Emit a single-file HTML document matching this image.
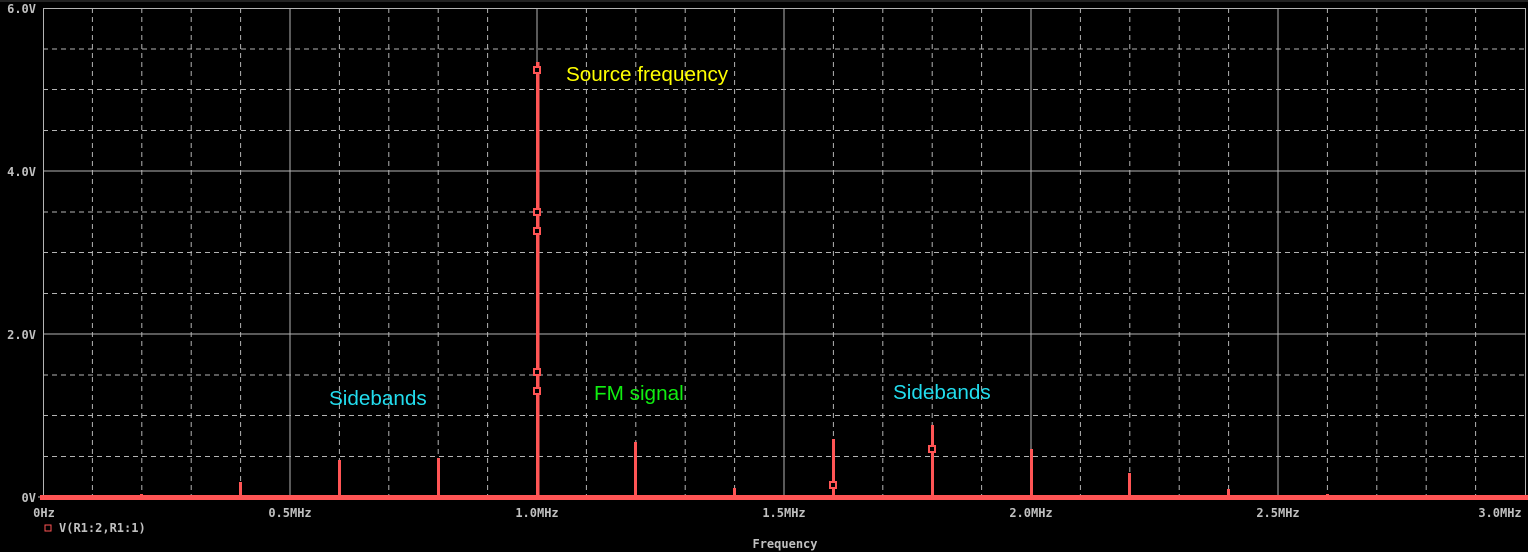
<!DOCTYPE html>
<html><head><meta charset="utf-8"><style>
html,body{margin:0;padding:0;background:#000;}
svg{display:block;}
.t{font-family:"DejaVu Sans Mono","Liberation Mono",monospace;font-size:12px;font-weight:bold;fill:#c0c0c0;}
.a{font-family:"Liberation Sans",sans-serif;font-size:20.7px;}
</style></head><body>
<svg width="1528" height="552" xmlns="http://www.w3.org/2000/svg">
<rect width="1528" height="552" fill="#000"/>
<rect x="0" y="0" width="1528" height="2" fill="#222"/>
<g stroke="#b4b4b4" stroke-width="1" stroke-dasharray="5,4" fill="none">
<path d="M92.4 8V497M141.8 8V497M191.2 8V497M240.6 8V497M339.4 8V497M388.8 8V497M438.2 8V497M487.6 8V497M586.4 8V497M635.8 8V497M685.2 8V497M734.6 8V497M833.4 8V497M882.8 8V497M932.2 8V497M981.6 8V497M1080.4 8V497M1129.8 8V497M1179.2 8V497M1228.6 8V497M1327.4 8V497M1376.8 8V497M1426.2 8V497M1475.6 8V497"/>
<path d="M43 456.5H1525M43 415.5H1525M43 375H1525M43 293.5H1525M43 252.5H1525M43 212H1525M43 130.5H1525M43 89.5H1525M43 49H1525"/>
</g>
<g stroke="#b4b4b4" stroke-width="1" fill="none">
<path d="M290 8V497M537 8V497M784 8V497M1031 8V497M1278 8V497"/>
<path d="M43 334H1525M43 171H1525"/>
<path d="M43 8.5H1525.5V497M43.5 8V497"/>
<path d="M38 497H43"/>
</g>
<g fill="#ff5555">
<rect x="40" y="495" width="1488" height="5"/>
<rect x="140" y="494" width="3" height="4"/>
<rect x="239" y="482" width="3" height="16"/>
<rect x="338" y="460" width="3" height="38"/>
<rect x="437" y="458" width="3" height="40"/>
<rect x="536" y="62" width="3.5" height="436"/>
<rect x="634" y="442" width="3" height="56"/>
<rect x="733" y="488" width="3" height="10"/>
<rect x="832" y="439" width="3" height="59"/>
<rect x="931" y="425" width="3" height="73"/>
<rect x="1030" y="449" width="3" height="49"/>
<rect x="1128" y="473" width="3" height="25"/>
<rect x="1227" y="489" width="3" height="9"/>
<rect x="1326" y="494" width="3" height="4"/>
</g>
<g fill="#000" stroke="#ff5555" stroke-width="2">
<rect x="534" y="67" width="6" height="6"/>
<rect x="534" y="209" width="6" height="6"/>
<rect x="534" y="228" width="6" height="6"/>
<rect x="534" y="369" width="6" height="6"/>
<rect x="534" y="388" width="6" height="6"/>
<rect x="830" y="482" width="6" height="6"/>
<rect x="929" y="446" width="6" height="6"/>
<rect x="45" y="525" width="6" height="6" stroke-width="1"/>
</g>
<text class="t" x="36" y="13" text-anchor="end">6.0V</text>
<text class="t" x="36" y="176" text-anchor="end">4.0V</text>
<text class="t" x="36" y="339" text-anchor="end">2.0V</text>
<text class="t" x="36" y="502" text-anchor="end">0V</text>
<text class="t" x="44" y="517" text-anchor="middle">0Hz</text>
<text class="t" x="290" y="517" text-anchor="middle">0.5MHz</text>
<text class="t" x="537" y="517" text-anchor="middle">1.0MHz</text>
<text class="t" x="784" y="517" text-anchor="middle">1.5MHz</text>
<text class="t" x="1031" y="517" text-anchor="middle">2.0MHz</text>
<text class="t" x="1278" y="517" text-anchor="middle">2.5MHz</text>
<text class="t" x="1500" y="517" text-anchor="middle">3.0MHz</text>
<text class="t" x="59" y="532">V(R1:2,R1:1)</text>
<text class="t" x="785" y="548" text-anchor="middle">Frequency</text>
<text class="a" x="566" y="81" fill="#ffff00">Source frequency</text>
<text class="a" x="329" y="405" fill="#22ddee">Sidebands</text>
<text class="a" x="594" y="400" fill="#11ee11">FM signal</text>
<text class="a" x="893" y="399" fill="#22ddee">Sidebands</text>
</svg>
</body></html>
